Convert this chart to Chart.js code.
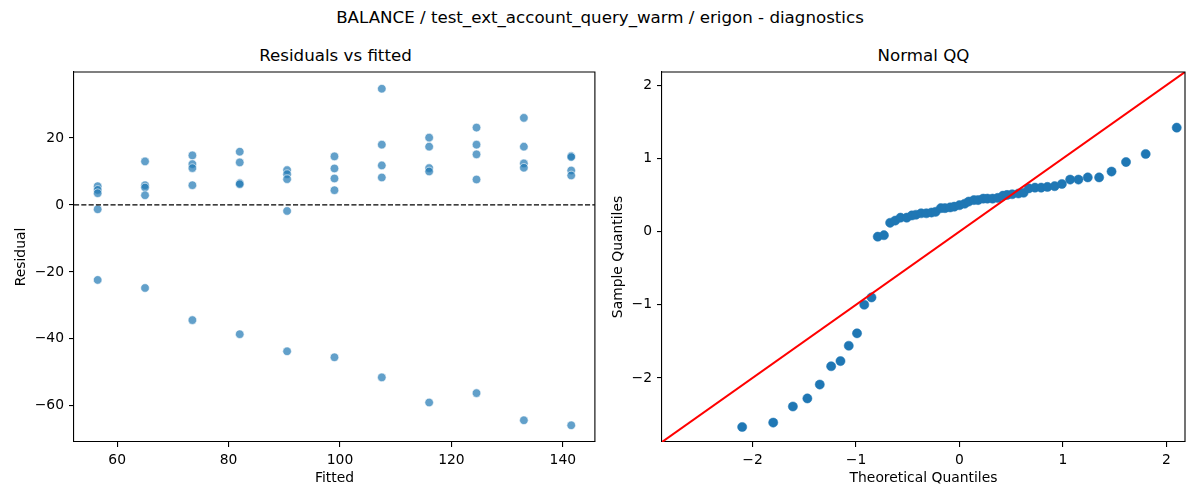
<!DOCTYPE html>
<html>
<head>
<meta charset="utf-8">
<script src="https://cdn.jsdelivr.net/npm/chart.js@4.4.1/dist/chart.umd.min.js"></script>
<style>
  body { margin: 0; background: #fff; font-family: "DejaVu Sans", sans-serif; }
  #fig { position: relative; width: 1200px; height: 500px; overflow: hidden; }
  .ttl { position: absolute; font-size: 16.67px; line-height: 20px; color: #000; white-space: nowrap; transform: translateX(-50%); }
  .pane { position: absolute; top: 52px; width: 600px; height: 448px; }
</style>
</head>
<body>
<div id="fig">
  <div class="ttl" style="left:600px; top:8px;">BALANCE / test_ext_account_query_warm / erigon - diagnostics</div>
  <div class="ttl" style="left:335.5px; top:46px;">Residuals vs fitted</div>
  <div class="ttl" style="left:923.5px; top:46px;">Normal QQ</div>
  <div class="pane" style="left:0px;"><canvas id="resid" width="600" height="448"></canvas></div>
  <div class="pane" style="left:600px;"><canvas id="qq" width="600" height="448"></canvas></div>
</div>
<script>
// residuals vs fitted: 11 fitted levels, 5 residuals each (sorted high -> low)
const fitted = [56.5, 65.0, 73.5, 82.0, 90.5, 99.0, 107.5, 116.0, 124.5, 133.0, 141.5];
const resid1 = [5.6, 13.0, 14.8, 15.9, 10.4, 14.5, 34.7, 20.1, 23.1, 26.0, 14.6];
const resid2 = [4.5, 5.9, 12.2, 12.7, 9.2, 10.9, 18.0, 17.4, 18.0, 17.4, 14.3];
const resid3 = [3.5, 5.2, 11.0, 6.5, 7.7, 7.9, 11.8, 11.0, 15.1, 12.4, 10.3];
const resid4 = [-1.3, 2.9, 5.9, 6.2, -1.8, 4.4, 8.2, 10.0, 7.6, 11.1, 8.8];
const resid5 = [-22.4, -24.8, -34.4, -38.6, -43.7, -45.5, -51.5, -59.0, -56.2, -64.3, -65.8];

// normal QQ
const theoQuantiles = [-2.10, -1.80, -1.61, -1.47, -1.35, -1.24, -1.15, -1.07, -0.99, -0.92, -0.85,
  -0.79, -0.73, -0.67, -0.62, -0.57, -0.51, -0.46, -0.42, -0.37, -0.32, -0.27, -0.23, -0.18,
  -0.14, -0.09, -0.05, 0.00, 0.05, 0.09, 0.14, 0.18, 0.23, 0.27, 0.32, 0.37, 0.42, 0.46, 0.51,
  0.57, 0.62, 0.67, 0.73, 0.79, 0.85, 0.92, 0.99, 1.07, 1.15, 1.24, 1.35, 1.47, 1.61, 1.80, 2.10];
const sampleQuantiles = [-2.67, -2.61, -2.39, -2.28, -2.09, -1.84, -1.77, -1.56, -1.39, -1.00, -0.90,
  -0.07, -0.05, 0.12, 0.15, 0.19, 0.19, 0.22, 0.23, 0.25, 0.25, 0.26, 0.27, 0.32, 0.32, 0.33,
  0.34, 0.36, 0.38, 0.41, 0.43, 0.43, 0.45, 0.45, 0.45, 0.46, 0.49, 0.50, 0.51, 0.52, 0.53,
  0.59, 0.60, 0.60, 0.61, 0.62, 0.65, 0.71, 0.71, 0.74, 0.74, 0.82, 0.95, 1.06, 1.42];

const fittedTicks = [60, 80, 100, 120, 140];
const residTicks = [-60, -40, -20, 0, 20];
const qqTicks = [-2, -1, 0, 1, 2];

Chart.defaults.font.family = '"DejaVu Sans", sans-serif';
Chart.defaults.font.size = 13.89;
Chart.defaults.color = '#000';
Chart.defaults.animation = false;

const minus = v => String(v).replace('-', '\u2212');

function axis(min, max, ticks, title, fit, titlePad) {
  return {
    type: 'linear',
    min: min,
    max: max,
    afterBuildTicks: s => { s.ticks = ticks.map(v => ({value: v})); },
    afterFit: fit,
    grid: { drawOnChartArea: false, drawTicks: true, tickLength: 5, color: '#000', lineWidth: 1.1 },
    border: { display: true, color: '#000', width: 1.1 },
    ticks: { padding: 5, callback: minus, maxRotation: 0, autoSkip: false },
    title: { display: true, text: title, padding: titlePad, font: { size: 13.89 } }
  };
}

// top/right spines plus a reference line
function framePlugin(drawRef) {
  return {
    id: 'frame',
    afterDatasetsDraw(chart) {
      const ctx = chart.ctx;
      ctx.save();
      drawRef(chart, ctx);
      ctx.restore();
    },
    afterDraw(chart) {
      const a = chart.chartArea, ctx = chart.ctx;
      ctx.save();
      ctx.strokeStyle = '#000';
      ctx.lineWidth = 1.1;
      ctx.beginPath();
      ctx.moveTo(a.left, a.top);
      ctx.lineTo(a.right, a.top);
      ctx.lineTo(a.right, a.bottom);
      ctx.stroke();
      ctx.restore();
    }
  };
}

let residPoints = [];
[resid1, resid2, resid3, resid4, resid5].forEach(r => {
  fitted.forEach((x, i) => residPoints.push({x: x, y: r[i]}));
});

let chartResid = new Chart(document.querySelector('#resid'), {
  type: 'scatter',
  data: {
    datasets: [{
      data: residPoints,
      pointRadius: 4.3,
      pointHoverRadius: 4.3,
      backgroundColor: 'rgba(31,119,180,0.7)',
      borderColor: 'rgba(255,255,255,0.75)',
      borderWidth: 0.8
    }]
  },
  options: {
    responsive: false,
    layout: { padding: { top: 20, right: 3, left: 0, bottom: 0 } },
    plugins: { legend: { display: false }, tooltip: { enabled: false } },
    scales: {
      x: axis(52.25, 145.75, fittedTicks, 'Fitted', s => { s.height = 58; }, { top: 4, bottom: 13.7 }),
      y: axis(-70.8, 39.7, residTicks, 'Residual', s => { s.width = 74; }, { top: 13.4, bottom: 4 })
    }
  },
  plugins: [framePlugin((chart, ctx) => {
    // dashed zero line
    const a = chart.chartArea;
    const y0 = chart.scales.y.getPixelForValue(0);
    ctx.strokeStyle = '#000';
    ctx.lineWidth = 1.3;
    ctx.setLineDash([5.1, 2.2]);
    ctx.beginPath();
    ctx.moveTo(a.left, y0);
    ctx.lineTo(a.right, y0);
    ctx.stroke();
  })]
});

let chartQQ = new Chart(document.querySelector('#qq'), {
  type: 'scatter',
  data: {
    datasets: [{
      data: theoQuantiles.map((x, i) => ({x: x, y: sampleQuantiles[i]})),
      pointRadius: 4.6,
      pointHoverRadius: 4.6,
      backgroundColor: '#1f77b4',
      borderColor: '#1f77b4',
      borderWidth: 0.5
    }]
  },
  options: {
    responsive: false,
    layout: { padding: { top: 20, right: 15, left: 0, bottom: 0 } },
    plugins: { legend: { display: false }, tooltip: { enabled: false } },
    scales: {
      x: axis(-2.875, 2.18, qqTicks, 'Theoretical Quantiles', s => { s.height = 58; }, { top: 4, bottom: 13.7 }),
      y: axis(-2.875, 2.18, qqTicks, 'Sample Quantiles', s => { s.width = 62; }, { top: 9.7, bottom: 4 })
    }
  },
  plugins: [framePlugin((chart, ctx) => {
    // 45 degree line, clipped to the axes
    const a = chart.chartArea, sx = chart.scales.x, sy = chart.scales.y;
    const lo = Math.max(sx.min, sy.min), hi = Math.min(sx.max, sy.max);
    ctx.beginPath();
    ctx.rect(a.left, a.top, a.right - a.left, a.bottom - a.top);
    ctx.clip();
    ctx.strokeStyle = '#ff0000';
    ctx.lineWidth = 2;
    ctx.beginPath();
    ctx.moveTo(sx.getPixelForValue(lo), sy.getPixelForValue(lo));
    ctx.lineTo(sx.getPixelForValue(hi), sy.getPixelForValue(hi));
    ctx.stroke();
  })]
});
</script>
</body>
</html>
